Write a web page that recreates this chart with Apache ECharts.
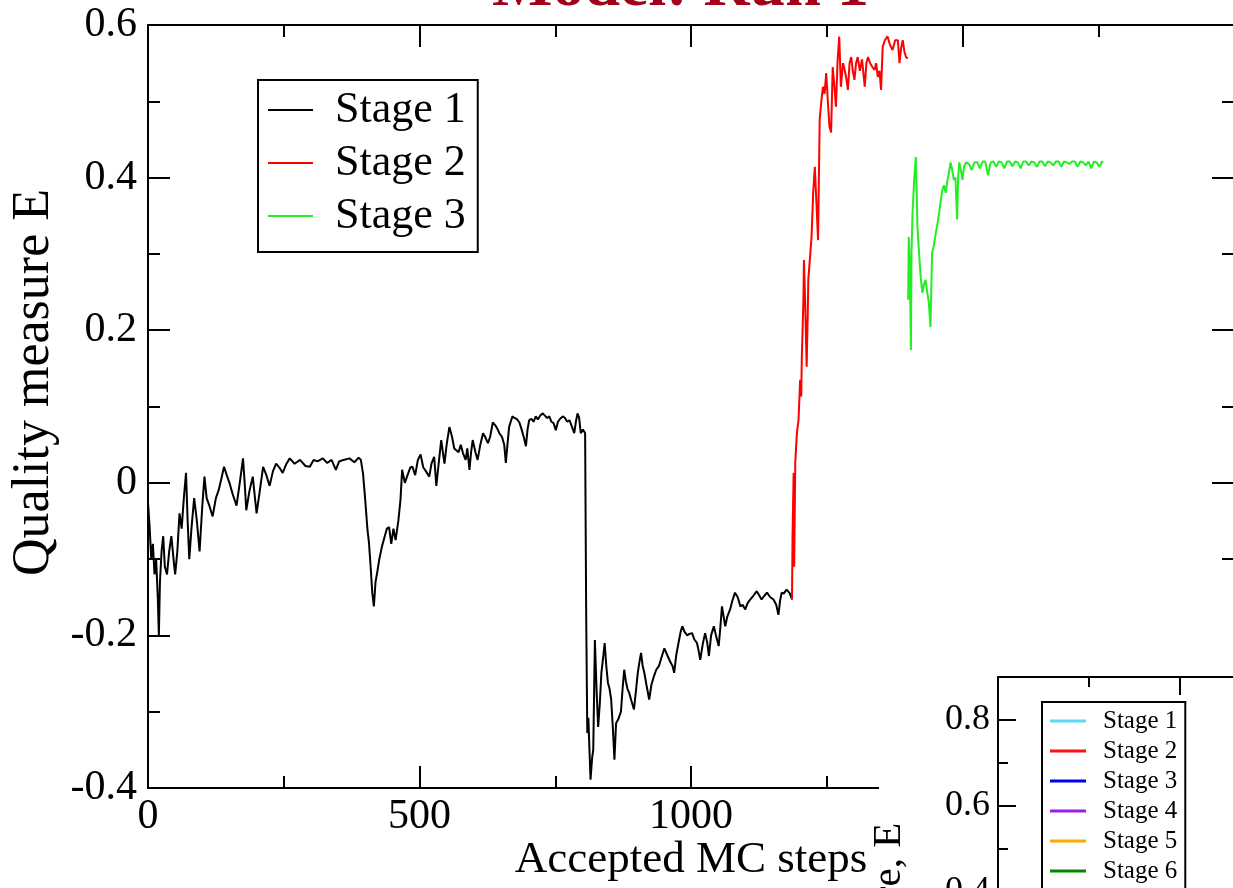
<!DOCTYPE html>
<html><head><meta charset="utf-8">
<script src="https://cdn.jsdelivr.net/npm/echarts@6/dist/echarts.min.js"></script>
<style>html,body{margin:0;padding:0;background:#fff}#c{width:1233px;height:888px}</style>
</head><body><div id="c"></div>
<script>
// ---- data ----
const stage1X = [0,3,6,9,12,15,18,20,22,25,28,31,35,39,43,47,50,54,58,62,66,70,73,76,80,85,90,95,100,104,108,113,119,125,130,135,140,145,150,156,163,169,175,178,181,187,193,197,200,206,212,218,224,230,236,242,248,255,261,270,280,290,298,305,312,322,330,338,346,352,360,371,380,388,392,396,400,404,407,410,413,416,419,422,426,431,436,440,444,448,452,456,461,465,468,473,478,483,487,492,497,502,507,512,518,522,527,531,536,540,544,546,550,555,560,564,567,572,576,580,585,588,592,595,598,603,607,612,617,621,626,630,635,640,644,647,652,656,659,662,665,668,671,675,680,684,688,692,696,699,702,706,710,714,718,722,727,731,735,739,743,747,751,755,759,764,768,772,776,780,785,788,791,794,797,801,805,807,809,811,813,815,818,820,823,826,829,832,835,838,841,844,847,850,853,856,859,862,866,871,874,877,880,883,886,890,895,899,902,905,908,911,914,918,923,927,932,936,941,946,951,954,957,962,966,969,973,978,981,984,988,993,997,1002,1006,1011,1014,1017,1022,1026,1030,1033,1037,1042,1046,1051,1054,1057,1060,1063,1067,1072,1076,1081,1086,1091,1095,1100,1104,1109,1115,1121,1126,1130,1135,1140,1146,1152,1157,1161,1164,1167,1171,1176,1182,1186];
const stage1Y = [-0.026,-0.058,-0.10,-0.08,-0.12,-0.10,-0.15,-0.20,-0.13,-0.09,-0.07,-0.11,-0.12,-0.09,-0.07,-0.10,-0.12,-0.09,-0.04,-0.06,-0.02,0.013,-0.05,-0.10,-0.06,-0.02,-0.05,-0.09,-0.03,0.008,-0.02,-0.03,-0.044,-0.02,-0.01,0.005,0.021,0.01,0.0,-0.015,-0.03,0.0,0.032,0.0,-0.036,-0.01,0.008,-0.02,-0.04,-0.01,0.021,0.01,-0.004,0.015,0.025,0.02,0.013,0.025,0.032,0.025,0.03,0.022,0.021,0.03,0.028,0.032,0.026,0.03,0.017,0.028,0.03,0.032,0.027,0.033,0.03,0.012,-0.022,-0.06,-0.079,-0.11,-0.144,-0.162,-0.13,-0.118,-0.10,-0.083,-0.07,-0.06,-0.058,-0.08,-0.06,-0.075,-0.05,-0.022,0.017,0.0,0.01,0.02,0.021,0.01,0.03,0.037,0.02,0.015,0.008,0.025,0.034,-0.004,0.03,0.056,0.035,0.025,0.05,0.073,0.06,0.045,0.043,0.04,0.05,0.039,0.03,0.045,0.017,0.04,0.056,0.04,0.03,0.05,0.065,0.06,0.052,0.06,0.079,0.075,0.07,0.065,0.06,0.05,0.026,0.05,0.073,0.08,0.087,0.085,0.083,0.079,0.07,0.06,0.048,0.07,0.082,0.084,0.08,0.087,0.083,0.088,0.091,0.088,0.085,0.087,0.08,0.078,0.069,0.08,0.084,0.087,0.085,0.08,0.082,0.075,0.065,0.08,0.091,0.085,0.065,0.07,0.065,-0.175,-0.328,-0.308,-0.35,-0.389,-0.36,-0.35,-0.206,-0.27,-0.32,-0.29,-0.249,-0.23,-0.21,-0.24,-0.262,-0.27,-0.284,-0.32,-0.363,-0.315,-0.31,-0.30,-0.27,-0.245,-0.26,-0.27,-0.275,-0.285,-0.297,-0.27,-0.249,-0.235,-0.223,-0.24,-0.249,-0.265,-0.284,-0.265,-0.253,-0.245,-0.24,-0.228,-0.217,-0.222,-0.227,-0.235,-0.24,-0.249,-0.225,-0.206,-0.195,-0.188,-0.195,-0.2,-0.198,-0.197,-0.205,-0.21,-0.22,-0.232,-0.21,-0.197,-0.21,-0.227,-0.2,-0.188,-0.2,-0.214,-0.19,-0.162,-0.175,-0.188,-0.175,-0.166,-0.155,-0.144,-0.15,-0.162,-0.16,-0.166,-0.158,-0.153,-0.148,-0.142,-0.148,-0.153,-0.148,-0.144,-0.15,-0.153,-0.16,-0.173,-0.155,-0.144,-0.145,-0.14,-0.145,-0.153];

const stage2X = [1186,1187,1189,1190,1192,1195,1198,1201,1203,1204,1207,1208,1210,1213,1215,1216,1219,1222,1225,1228,1231,1234,1237,1240,1243,1246,1249,1252,1255,1258,1261,1264,1267,1270,1273,1276,1280,1283,1286,1289,1292,1295,1298,1301,1304,1307,1311,1315,1320,1323,1326,1330,1334,1338,1341,1344,1347,1350,1353,1357,1362,1366,1371,1376,1381,1384,1387,1390,1393,1396,1399];
const stage2Y = [-0.153,-0.07,0.013,-0.11,0.026,0.065,0.082,0.135,0.113,0.161,0.24,0.292,0.244,0.152,0.22,0.266,0.266,0.322,0.38,0.414,0.367,0.318,0.476,0.50,0.519,0.51,0.537,0.50,0.467,0.459,0.545,0.52,0.493,0.554,0.585,0.519,0.55,0.541,0.53,0.515,0.55,0.558,0.54,0.528,0.55,0.558,0.54,0.555,0.519,0.55,0.558,0.55,0.545,0.541,0.55,0.532,0.54,0.515,0.571,0.58,0.585,0.575,0.567,0.58,0.58,0.55,0.57,0.58,0.565,0.558,0.556];

const stage3X = [1400,1401,1403,1405,1406,1408,1411,1414,1416,1417,1420,1423,1426,1429,1432,1435,1438,1441,1444,1447,1451,1454,1457,1460,1463,1466,1469,1472,1475,1478,1481,1484,1487,1490,1492,1494,1497,1500,1503,1507,1512,1517,1522,1527,1532,1537,1542,1547,1552,1557,1562,1567,1572,1577,1582,1587,1592,1597,1602,1607,1612,1617,1622,1627,1632,1637,1642,1647,1652,1657,1662,1667,1672,1677,1682,1687,1692,1697,1702,1707,1712,1717,1722,1727,1732,1737,1742,1747,1752,1757,1759];
const stage3Y = [0.24,0.322,0.28,0.174,0.30,0.354,0.397,0.427,0.37,0.336,0.301,0.27,0.249,0.26,0.266,0.25,0.236,0.204,0.301,0.31,0.328,0.34,0.354,0.37,0.384,0.39,0.38,0.395,0.406,0.42,0.41,0.397,0.40,0.345,0.40,0.42,0.41,0.397,0.415,0.42,0.418,0.41,0.42,0.42,0.412,0.421,0.421,0.403,0.42,0.421,0.414,0.421,0.42,0.412,0.421,0.421,0.415,0.421,0.42,0.412,0.421,0.421,0.416,0.421,0.42,0.414,0.421,0.421,0.415,0.421,0.42,0.416,0.421,0.421,0.414,0.421,0.42,0.418,0.421,0.421,0.414,0.421,0.42,0.416,0.421,0.412,0.421,0.42,0.414,0.421,0.42];

const mainStages = ['Stage 1','Stage 2','Stage 3'];
const insetStages = ['Stage 1','Stage 2','Stage 3','Stage 4','Stage 5','Stage 6'];
const titleText = 'Model: Run 1';
const xTitle = 'Accepted MC steps';
const yTitle = 'Quality measure E';
const insetYTitle = 'Quality measure, E';

// ---- styling ----
const SERIF = "'Liberation Serif','DejaVu Serif',serif";
const insetColors = ['#5fd8f8','#ff1010','#0000ee','#9a1ee8','#ffaa00','#008a00'];
const pair = (xs, ys) => xs.map((x, i) => [x, ys[i]]);

function frameAxis(extra) {
  return Object.assign({
    type: 'value',
    splitLine: {show: false},
    axisLine: {show: true, onZero: false, lineStyle: {color: '#000', width: 2}},
    axisTick: {show: true, inside: true, length: 22, lineStyle: {color: '#000', width: 2}},
    minorTick: {show: true, splitNumber: 2, length: 12, lineStyle: {color: '#000', width: 2}},
    axisLabel: {show: false},
    nameMoveOverlap: false
  }, extra);
}
const insetTick = {show: true, inside: true, length: 18, lineStyle: {color: '#000', width: 2}};
const insetMinor = {show: true, splitNumber: 2, length: 10, lineStyle: {color: '#000', width: 2}};

const chart = echarts.init(document.getElementById('c'), null, {renderer: 'canvas'});
const option = {
  animation: false,
  backgroundColor: '#fff',
  title: {
    text: titleText, left: 487, top: -49,
    textStyle: {color: '#a3001c', fontSize: 64, fontWeight: 'bold', fontFamily: SERIF}
  },
  grid: [
    {left: 148, top: 25, width: 1086, height: 763, outerBoundsMode: 'none', containLabel: false},
    {left: 998, top: 677, width: 546, height: 559, outerBoundsMode: 'none', containLabel: false}
  ],
  xAxis: [
    frameAxis({gridIndex: 0, position: 'bottom', min: 0, max: 2000, interval: 500,
      axisLabel: {show: true, color: '#000', fontSize: 42, fontFamily: SERIF, margin: 8,
        showMaxLabel: false, formatter: v => String(v)},
      name: xTitle, nameLocation: 'middle', nameGap: 50,
      nameTextStyle: {color: '#000', fontSize: 45, fontFamily: SERIF}}),
    frameAxis({gridIndex: 0, position: 'top', min: 0, max: 2000, interval: 500}),
    frameAxis({gridIndex: 1, position: 'bottom', min: 0, max: 3000, interval: 1000, z: 20,
      axisTick: insetTick, minorTick: insetMinor}),
    frameAxis({gridIndex: 1, position: 'top', min: 0, max: 3000, interval: 1000, z: 20,
      axisTick: insetTick, minorTick: insetMinor})
  ],
  yAxis: [
    frameAxis({gridIndex: 0, position: 'left', min: -0.4, max: 0.6, interval: 0.2,
      axisLabel: {show: true, color: '#000', fontSize: 42, fontFamily: SERIF, margin: 11,
        formatter: v => String(Math.round(v * 10) / 10)},
      name: yTitle, nameLocation: 'middle', nameGap: 88, nameRotate: 90,
      nameTextStyle: {color: '#000', fontSize: 52, fontFamily: SERIF, padding: [0, 0, 0, 48]}}),
    frameAxis({gridIndex: 0, position: 'right', min: -0.4, max: 0.6, interval: 0.2}),
    frameAxis({gridIndex: 1, position: 'left', min: -0.4, max: 0.9, interval: 0.2, z: 20,
      axisTick: insetTick, minorTick: insetMinor,
      axisLabel: {show: true, color: '#000', fontSize: 36, fontFamily: SERIF, margin: 8,
        showMaxLabel: false, formatter: v => String(Math.round(v * 10) / 10)},
      name: insetYTitle, nameLocation: 'middle', nameGap: 88, nameRotate: 90,
      nameTextStyle: {color: '#000', fontSize: 41, fontFamily: SERIF, padding: [0, 48, 0, 0]}})
  ],
  legend: [
    {
      data: mainStages, orient: 'vertical', left: 258, top: 80,
      padding: [7, 12, 13, 10], itemGap: 7, itemWidth: 45, itemHeight: 2, icon: 'rect',
      borderColor: '#000', borderWidth: 2, backgroundColor: '#fff',
      textStyle: {color: '#000', fontSize: 44, fontFamily: SERIF, lineHeight: 46, padding: [0, 0, 0, 17]},
      selectedMode: false
    },
    {
      data: insetStages.map(s => 'inset ' + s), orient: 'vertical', left: 1042, top: 702, height: 260,
      padding: [6, 8, 6, 8], itemGap: 4, itemWidth: 36, itemHeight: 3, icon: 'rect', z: 20,
      borderColor: '#000', borderWidth: 2, backgroundColor: '#fff',
      formatter: n => n.replace('inset ', ''),
      textStyle: {color: '#000', fontSize: 25, fontFamily: SERIF, lineHeight: 26, padding: [0, 0, 0, 12]},
      selectedMode: false
    }
  ],
  graphic: [
    {type: 'rect', shape: {x: 879, y: 600, width: 400, height: 300}, style: {fill: '#fff'}, z: 10}
  ],
  series: [
    {name: mainStages[0], type: 'line', xAxisIndex: 0, yAxisIndex: 0, data: pair(stage1X, stage1Y),
      showSymbol: false, color: '#000', lineStyle: {color: '#000', width: 2}, z: 2},
    {name: mainStages[1], type: 'line', xAxisIndex: 0, yAxisIndex: 0, data: pair(stage2X, stage2Y),
      showSymbol: false, color: '#ff0000', lineStyle: {color: '#ff0000', width: 2}, z: 2},
    {name: mainStages[2], type: 'line', xAxisIndex: 0, yAxisIndex: 0, data: pair(stage3X, stage3Y),
      showSymbol: false, color: '#22ee22', lineStyle: {color: '#22ee22', width: 2}, z: 2}
  ].concat(insetStages.map((s, i) => ({
    name: 'inset ' + s, type: 'line', xAxisIndex: 2, yAxisIndex: 2, data: [],
    showSymbol: false, color: insetColors[i], lineStyle: {color: insetColors[i], width: 3}, z: 20
  })))
};
chart.setOption(option);
</script>
</body></html>
